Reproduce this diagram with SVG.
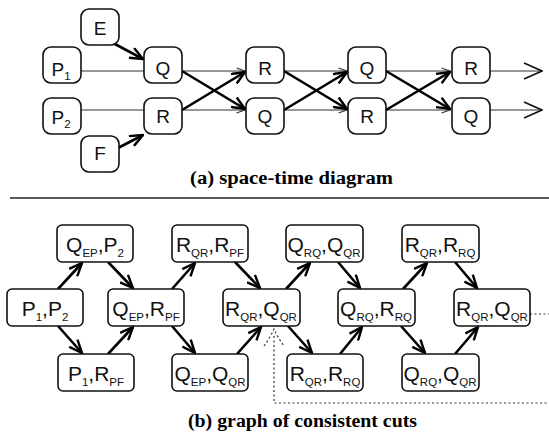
<svg xmlns="http://www.w3.org/2000/svg" width="549" height="433" viewBox="0 0 549 433">
<style>
.bx{fill:#fff;stroke:#111;stroke-width:1.6}
.tl{font-family:"Liberation Sans",Arial,sans-serif;font-size:19px;fill:#111;text-anchor:middle}
.lb{font-family:"Liberation Sans",Arial,sans-serif;font-size:21px;fill:#111;text-anchor:middle}
.sb{font-size:11.5px}
.thin{stroke:#333;stroke-width:1.2;fill:none}
.thick{stroke:#000;stroke-width:2.6;fill:none}
.dot{stroke:#333;stroke-width:1.2;stroke-dasharray:2 2.5;fill:none}
.ttl{font-family:"Liberation Serif","Times New Roman",serif;font-weight:bold;font-size:18px;fill:#000}
</style>
<defs>
<marker id="ah" viewBox="0 0 15 13" refX="14" refY="6.5" markerWidth="15" markerHeight="13" markerUnits="userSpaceOnUse" orient="auto"><path d="M1 1 L14 6.5 L1 12" fill="none" stroke="#000" stroke-width="2.4"/></marker>
<marker id="sh" viewBox="0 0 10 8" refX="9.5" refY="4" markerWidth="10" markerHeight="8" markerUnits="userSpaceOnUse" orient="auto"><path d="M1 1 L9.5 4 L1 7" fill="none" stroke="#333" stroke-width="1.2"/></marker>
<marker id="bh" viewBox="0 0 20 18" refX="19" refY="9" markerWidth="20" markerHeight="18" markerUnits="userSpaceOnUse" orient="auto"><path d="M1 1 L19 9 L1 17" fill="none" stroke="#111" stroke-width="1.6"/></marker>
</defs>

<!-- (a) space-time diagram -->
<g id="connectors-a">
<line class="thin" x1="81" y1="71" x2="144" y2="71"/>
<line class="thin" x1="81" y1="110" x2="144" y2="110"/>
<line class="thick" x1="113" y1="43" x2="143" y2="59" marker-end="url(#ah)"/>
<line class="thick" x1="118" y1="148" x2="143" y2="135" marker-end="url(#ah)"/>
<line class="thin" x1="182" y1="71" x2="245" y2="71" marker-end="url(#sh)"/>
<line class="thin" x1="182" y1="110" x2="245" y2="110" marker-end="url(#sh)"/>
<line class="thick" x1="182" y1="71" x2="245" y2="109" marker-end="url(#ah)"/>
<line class="thick" x1="182" y1="110" x2="245" y2="72" marker-end="url(#ah)"/>
<line class="thin" x1="284" y1="71" x2="347" y2="71" marker-end="url(#sh)"/>
<line class="thin" x1="284" y1="110" x2="347" y2="110" marker-end="url(#sh)"/>
<line class="thick" x1="284" y1="71" x2="347" y2="109" marker-end="url(#ah)"/>
<line class="thick" x1="284" y1="110" x2="347" y2="72" marker-end="url(#ah)"/>
<line class="thin" x1="386" y1="71" x2="450" y2="71" marker-end="url(#sh)"/>
<line class="thin" x1="386" y1="110" x2="450" y2="110" marker-end="url(#sh)"/>
<line class="thick" x1="386" y1="71" x2="450" y2="109" marker-end="url(#ah)"/>
<line class="thick" x1="386" y1="110" x2="450" y2="72" marker-end="url(#ah)"/>
<line class="thin" x1="490" y1="71" x2="542" y2="71" marker-end="url(#bh)"/>
<line class="thin" x1="490" y1="110" x2="542" y2="110" marker-end="url(#bh)"/>
</g>
<g id="a-E"><rect class="bx" x="81" y="9" width="38" height="36" rx="8"/><text class="tl" x="100" y="35">E</text></g>
<g id="a-P1"><rect class="bx" x="43" y="47" width="38" height="36" rx="8"/><text class="tl" x="61" y="76">P<tspan class="sb" dy="4">1</tspan></text></g>
<g id="a-P2"><rect class="bx" x="43" y="98" width="38" height="36" rx="8"/><text class="tl" x="61" y="124">P<tspan class="sb" dy="4">2</tspan></text></g>
<g id="a-F"><rect class="bx" x="81" y="136" width="38" height="36" rx="8"/><text class="tl" x="100" y="160">F</text></g>
<g id="a-Q1"><rect class="bx" x="144" y="47" width="38" height="36" rx="8"/><text class="tl" x="163" y="75">Q</text></g>
<g id="a-R1"><rect class="bx" x="144" y="98" width="38" height="36" rx="8"/><text class="tl" x="163" y="123">R</text></g>
<g id="a-R2"><rect class="bx" x="246" y="47" width="38" height="36" rx="8"/><text class="tl" x="265" y="75">R</text></g>
<g id="a-Q2"><rect class="bx" x="246" y="98" width="38" height="36" rx="8"/><text class="tl" x="265" y="123">Q</text></g>
<g id="a-Q3"><rect class="bx" x="348" y="47" width="38" height="36" rx="8"/><text class="tl" x="367" y="75">Q</text></g>
<g id="a-R3"><rect class="bx" x="348" y="98" width="38" height="36" rx="8"/><text class="tl" x="367" y="123">R</text></g>
<g id="a-R4"><rect class="bx" x="452" y="47" width="38" height="36" rx="8"/><text class="tl" x="471" y="75">R</text></g>
<g id="a-Q4"><rect class="bx" x="452" y="98" width="38" height="36" rx="8"/><text class="tl" x="471" y="123">Q</text></g>
<text class="ttl" x="190" y="184" textLength="203" lengthAdjust="spacingAndGlyphs">(a) space-time diagram</text>
<line x1="10" y1="198" x2="549" y2="198" stroke="#222" stroke-width="1.6"/>

<!-- (b) graph of consistent cuts -->
<g id="connectors-b">
<line class="thick" x1="58" y1="289" x2="82" y2="263" marker-end="url(#ah)"/>
<line class="thick" x1="58" y1="326" x2="82" y2="353" marker-end="url(#ah)"/>
<line class="thick" x1="108" y1="262" x2="133" y2="288" marker-end="url(#ah)"/>
<line class="thick" x1="108" y1="354" x2="133" y2="327" marker-end="url(#ah)"/>
<line class="thick" x1="172" y1="289" x2="195" y2="263" marker-end="url(#ah)"/>
<line class="thick" x1="172" y1="326" x2="195" y2="353" marker-end="url(#ah)"/>
<line class="thick" x1="235" y1="262" x2="260" y2="288" marker-end="url(#ah)"/>
<line class="thick" x1="237" y1="354" x2="261" y2="327" marker-end="url(#ah)"/>
<line class="thick" x1="286" y1="289" x2="310" y2="263" marker-end="url(#ah)"/>
<line class="thick" x1="288" y1="326" x2="312" y2="353" marker-end="url(#ah)"/>
<line class="thick" x1="338" y1="262" x2="360" y2="288" marker-end="url(#ah)"/>
<line class="thick" x1="340" y1="354" x2="362" y2="327" marker-end="url(#ah)"/>
<line class="thick" x1="403" y1="289" x2="427" y2="263" marker-end="url(#ah)"/>
<line class="thick" x1="401" y1="326" x2="425" y2="353" marker-end="url(#ah)"/>
<line class="thick" x1="455" y1="262" x2="477" y2="288" marker-end="url(#ah)"/>
<line class="thick" x1="455" y1="354" x2="478" y2="327" marker-end="url(#ah)"/>
<path class="dot" d="M530 314 H549"/>
<path class="dot" d="M274 336 V403 H549"/>
<path class="dot" d="M264 346 Q270 338 274 329 Q278 338 284 346"/>
</g>
<g id="b-P1P2"><rect class="bx" x="7" y="289" width="76" height="37" rx="5"/><text class="lb" x="45" y="316">P<tspan class="sb" dy="5">1</tspan><tspan dy="-5">,P</tspan><tspan class="sb" dy="5">2</tspan></text></g>
<g id="b-QEP-P2"><rect class="bx" x="57" y="225" width="76" height="37" rx="5"/><text class="lb" x="95" y="252">Q<tspan class="sb" dy="5">EP</tspan><tspan dy="-5">,P</tspan><tspan class="sb" dy="5">2</tspan></text></g>
<g id="b-P1-RPF"><rect class="bx" x="58" y="354" width="76" height="37" rx="5"/><text class="lb" x="96" y="381">P<tspan class="sb" dy="5">1</tspan><tspan dy="-5">,R</tspan><tspan class="sb" dy="5">PF</tspan></text></g>
<g id="b-QEP-RPF"><rect class="bx" x="108" y="289" width="76" height="37" rx="5"/><text class="lb" x="146" y="316">Q<tspan class="sb" dy="5">EP</tspan><tspan dy="-5">,R</tspan><tspan class="sb" dy="5">PF</tspan></text></g>
<g id="b-RQR-RPF"><rect class="bx" x="172" y="225" width="76" height="37" rx="5"/><text class="lb" x="210" y="252">R<tspan class="sb" dy="5">QR</tspan><tspan dy="-5">,R</tspan><tspan class="sb" dy="5">PF</tspan></text></g>
<g id="b-QEP-QQR"><rect class="bx" x="172" y="354" width="76" height="37" rx="5"/><text class="lb" x="210" y="381">Q<tspan class="sb" dy="5">EP</tspan><tspan dy="-5">,Q</tspan><tspan class="sb" dy="5">QR</tspan></text></g>
<g id="b-RQR-QQR-1"><rect class="bx" x="223" y="289" width="77" height="37" rx="5"/><text class="lb" x="261" y="316">R<tspan class="sb" dy="5">QR</tspan><tspan dy="-5">,Q</tspan><tspan class="sb" dy="5">QR</tspan></text></g>
<g id="b-QRQ-QQR-1"><rect class="bx" x="286" y="225" width="77" height="37" rx="5"/><text class="lb" x="324" y="252">Q<tspan class="sb" dy="5">RQ</tspan><tspan dy="-5">,Q</tspan><tspan class="sb" dy="5">QR</tspan></text></g>
<g id="b-RQR-RRQ-1"><rect class="bx" x="287" y="354" width="76" height="37" rx="5"/><text class="lb" x="325" y="381">R<tspan class="sb" dy="5">QR</tspan><tspan dy="-5">,R</tspan><tspan class="sb" dy="5">RQ</tspan></text></g>
<g id="b-QRQ-RRQ"><rect class="bx" x="338" y="289" width="77" height="37" rx="5"/><text class="lb" x="376" y="316">Q<tspan class="sb" dy="5">RQ</tspan><tspan dy="-5">,R</tspan><tspan class="sb" dy="5">RQ</tspan></text></g>
<g id="b-RQR-RRQ-2"><rect class="bx" x="402" y="225" width="77" height="37" rx="5"/><text class="lb" x="440" y="252">R<tspan class="sb" dy="5">QR</tspan><tspan dy="-5">,R</tspan><tspan class="sb" dy="5">RQ</tspan></text></g>
<g id="b-QRQ-QQR-2"><rect class="bx" x="402" y="354" width="77" height="37" rx="5"/><text class="lb" x="440" y="381">Q<tspan class="sb" dy="5">RQ</tspan><tspan dy="-5">,Q</tspan><tspan class="sb" dy="5">QR</tspan></text></g>
<g id="b-RQR-QQR-2"><rect class="bx" x="454" y="289" width="76" height="37" rx="5"/><text class="lb" x="492" y="316">R<tspan class="sb" dy="5">QR</tspan><tspan dy="-5">,Q</tspan><tspan class="sb" dy="5">QR</tspan></text></g>
<text class="ttl" x="188" y="427" textLength="229" lengthAdjust="spacingAndGlyphs">(b) graph of consistent cuts</text>
</svg>
